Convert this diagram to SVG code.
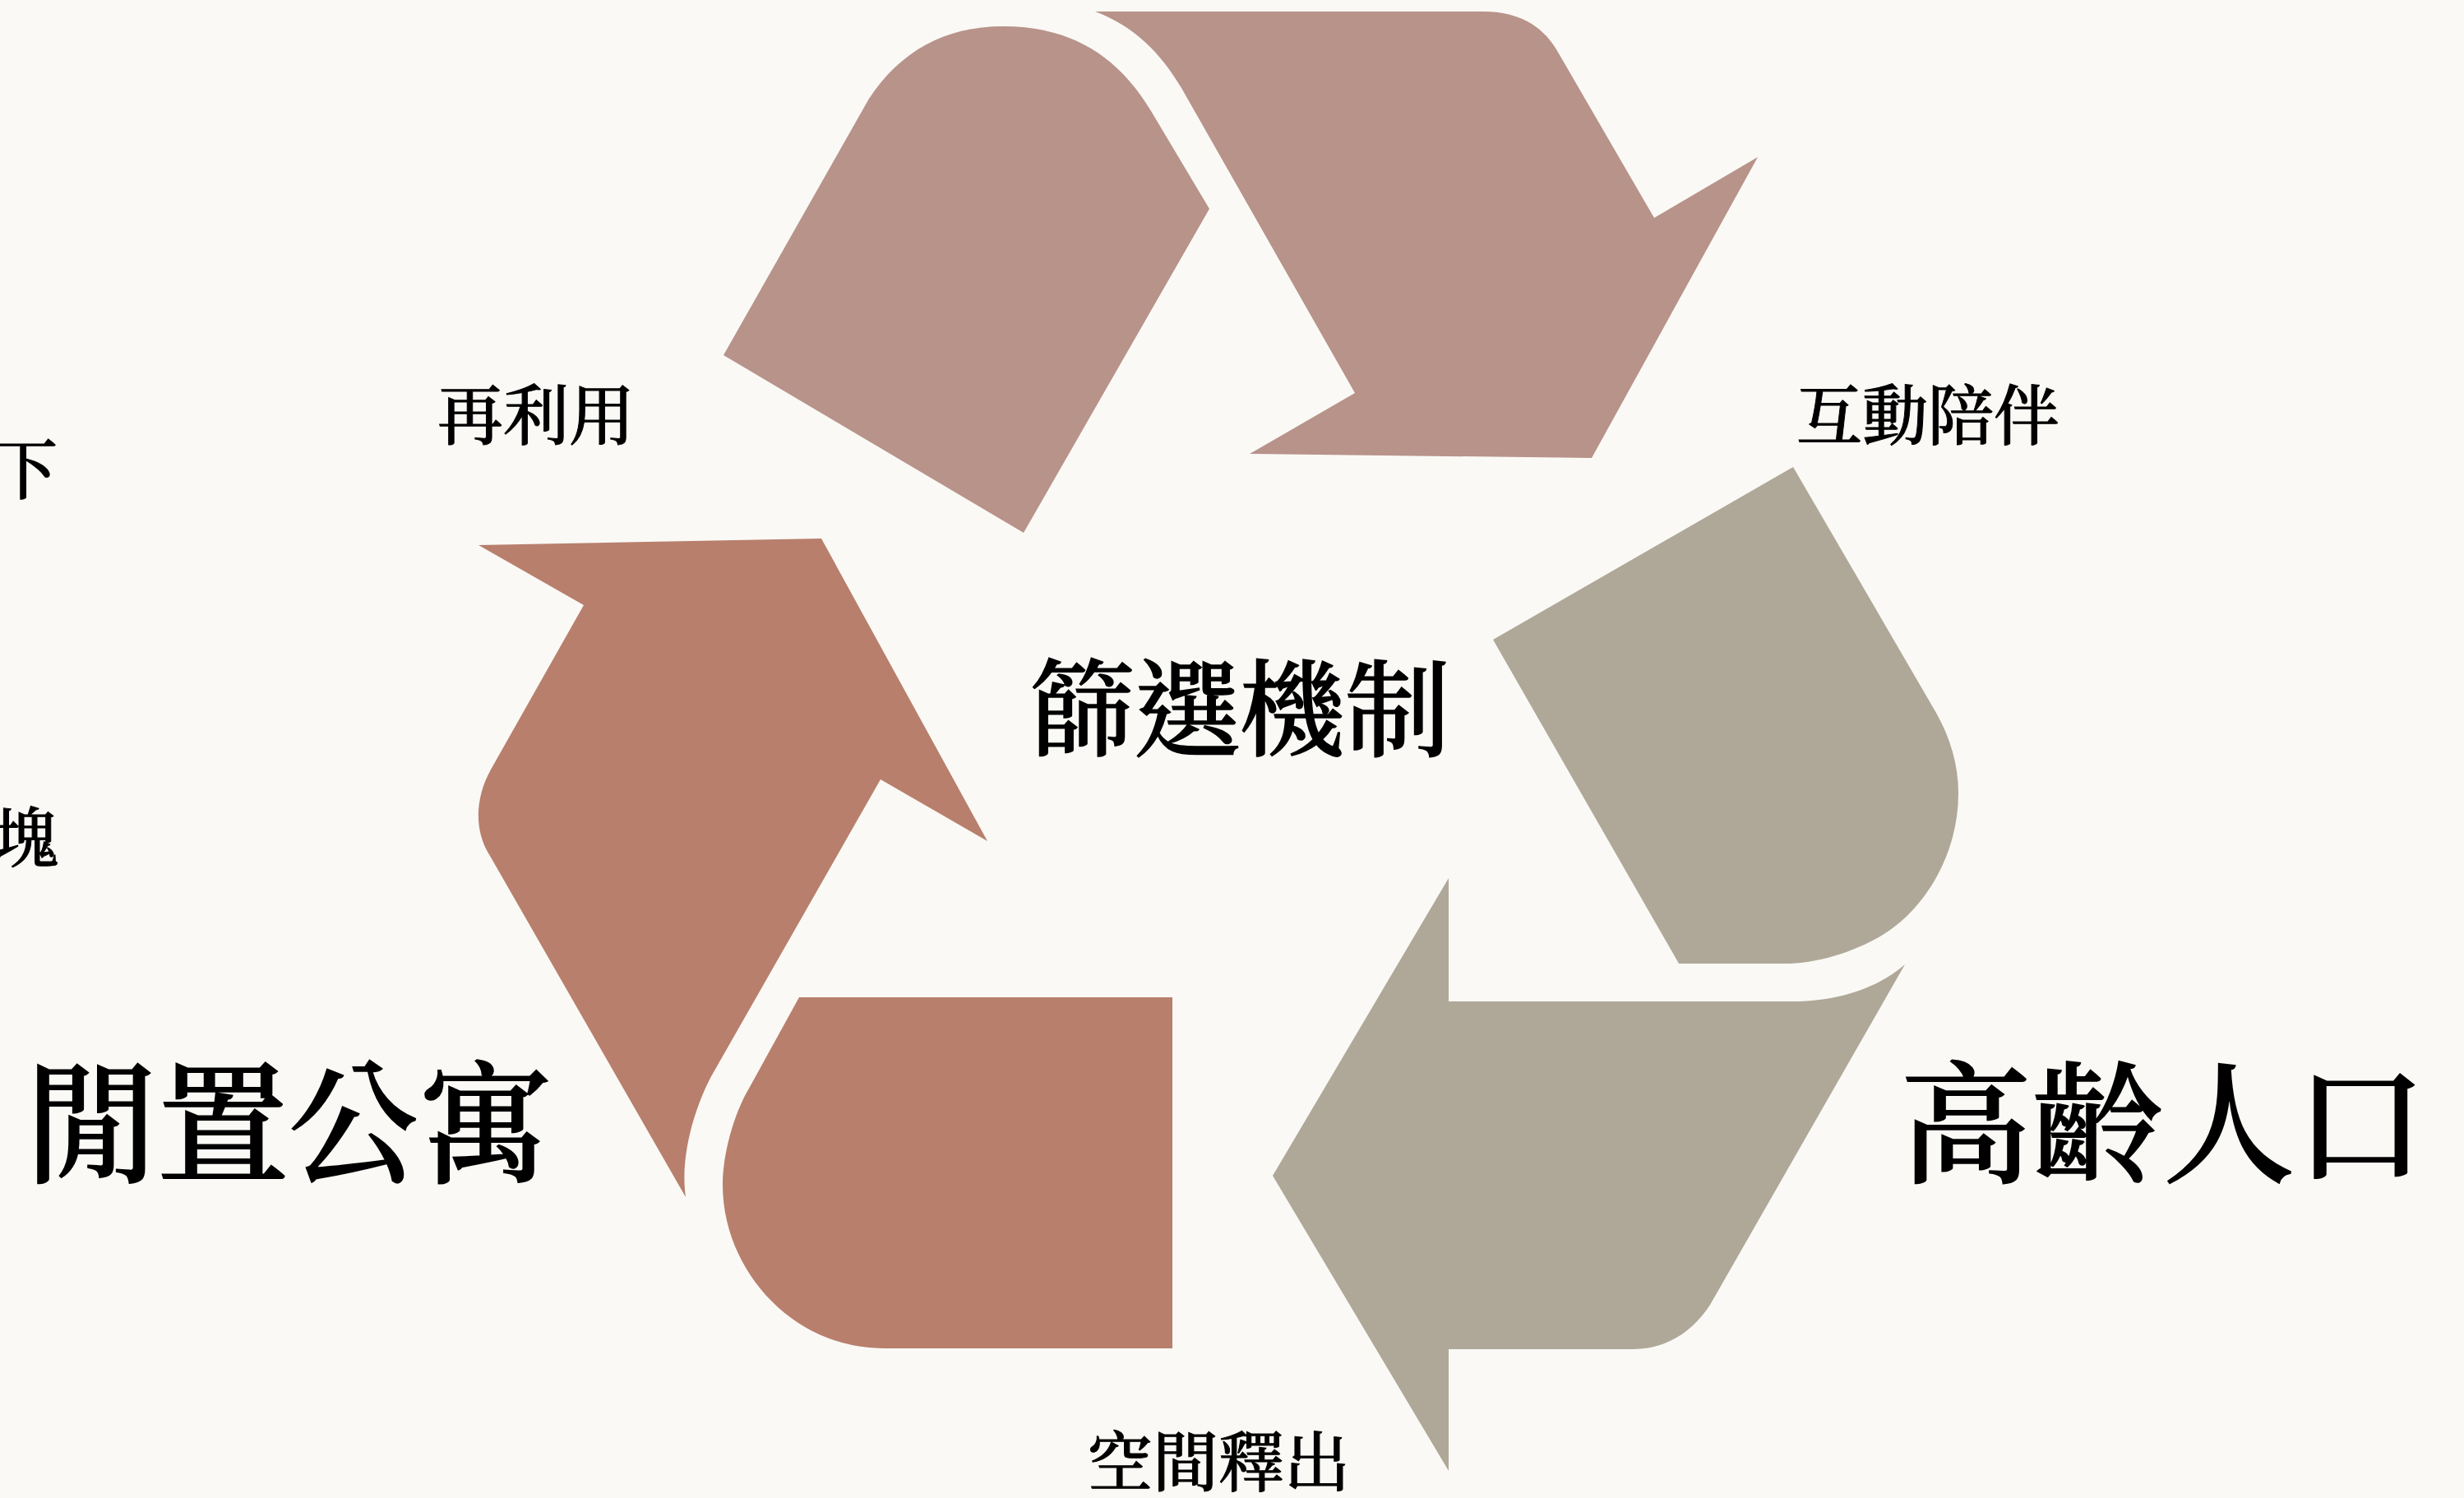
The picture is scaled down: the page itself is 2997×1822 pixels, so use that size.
<svg xmlns="http://www.w3.org/2000/svg" width="2997" height="1822" viewBox="0 0 2997 1822">
<style>
text{font-family:"Noto Serif CJK TC","Source Han Serif TC","AR PL UMing TW","Noto Serif CJK SC","Noto Serif CJK JP","Noto Sans CJK TC",serif;fill:#000;stroke:#000;font-weight:500}
.s{font-size:80px;stroke-width:1px}.m{font-size:128px;stroke-width:1.6px}.l{font-size:160px;stroke-width:2px}
.a{fill:#b8938a}.b{fill:#afa898}.c{fill:#b87f6d}
</style>
<rect width="2997" height="1822" fill="#faf9f5"/>
<g id="shapes">
<path id="n1" class="a" d="M880 432L1245 648L1471 254L1400 135C1358 65 1300 32 1220 32C1150 32 1095 62 1057 120Z"/>
<path id="n2" class="a" d="M1332 14L1805 14C1845 14 1875 30 1893 60L2012 265L2138 191L1936 557L1520 552L1648 478L1437 107C1412 65 1380 32 1332 14Z"/>
<path id="n3" class="b" d="M2181 568L1816 778L2042 1172L2170 1172C2210 1172 2255 1158 2290 1137C2345 1103 2382 1035 2382 965C2382 930 2372 897 2355 867Z"/>
<path id="n4" class="b" d="M1762 1068L1762 1218L2180 1218C2230 1218 2280 1205 2317 1173L2080 1587C2057 1622 2025 1641 1985 1641L1762 1641L1762 1789L1548 1430Z"/>
<path id="n5" class="c" d="M582 663L999 655L1201 1023L1071 948L868 1304C850 1335 826 1400 834 1456L596 1041C577 1012 577 972 597 936L710 736Z"/>
<path id="n6" class="c" d="M972 1213L1426 1213L1426 1640L1076 1640C962 1640 879 1543 879 1441C879 1405 892 1355 912 1322Z"/>
</g>
<g id="labels">
<text class="m" x="1252" y="910">篩選機制</text>
<text class="l" x="31" y="1426">閒置公寓</text>
<text class="l" x="2311" y="1426">高齡人口</text>
<text class="s" x="532" y="534">再利用</text>
<text class="s" x="2185" y="534">互動陪伴</text>
<text class="s" x="1322" y="1807">空間釋出</text>
<text class="s" x="-10" y="600">下</text>
<text class="s" x="-8" y="1048">塊</text>
</g>
</svg>
